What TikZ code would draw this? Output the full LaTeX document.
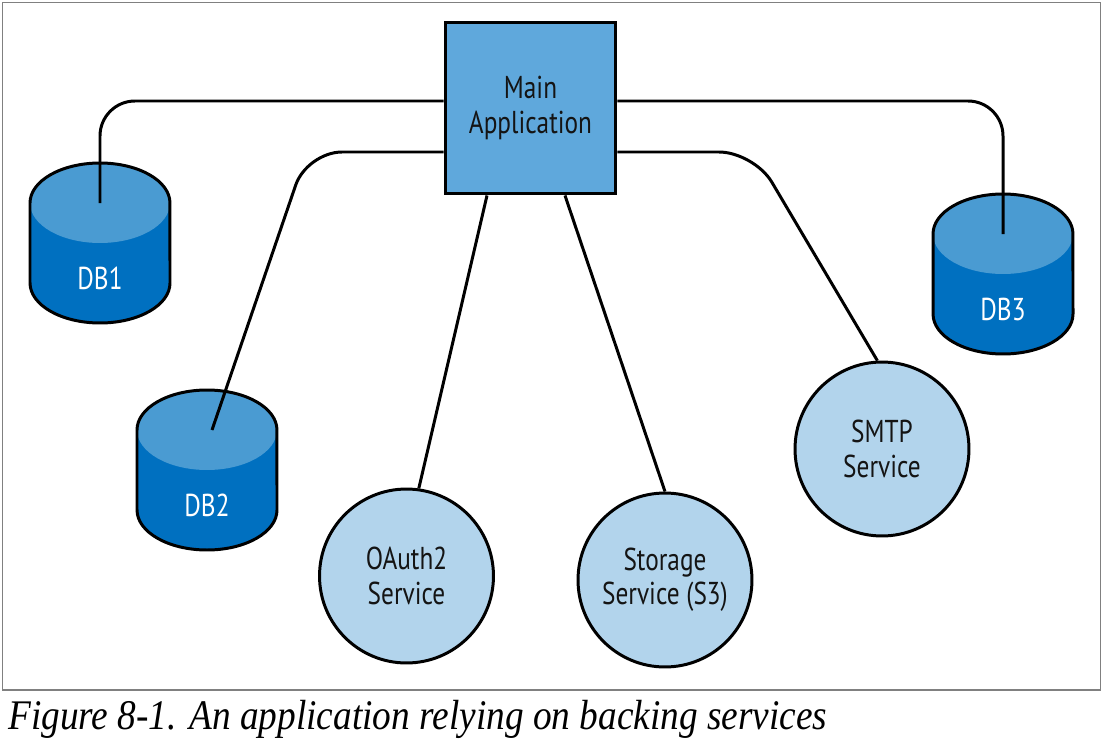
\documentclass[tikz,border=0pt]{standalone}
\usepackage{fontspec}
\newfontfamily\condfont[FakeStretch=0.8]{PT Sans}
\newfontfamily\capfont[FakeStretch=0.885]{Liberation Serif}
\usetikzlibrary{calc}
\definecolor{mainblue}{HTML}{5FA8DC}
\definecolor{dbtopc}{HTML}{4A9BD2}
\definecolor{dbbodyc}{HTML}{0070C0}
\definecolor{svcblue}{HTML}{B2D4EC}
\definecolor{framegray}{HTML}{808080}
\definecolor{txt}{HTML}{141414}
\tikzset{
  shapeline/.style={draw=black, line width=1.7pt},
  conn/.style={draw=black, line width=1.7pt, rounded corners=0.7cm},
  mainbox/.style={shapeline, fill=mainblue, minimum width=3.42cm, minimum height=3.44cm, inner sep=0pt, align=center, text=txt, font=\condfont\fontsize{18}{19.5}\selectfont},
  svc/.style={shapeline, circle, fill=svcblue, minimum size=3.48cm, inner sep=0pt, align=center, text=txt, font=\condfont\fontsize{18}{19.5}\selectfont},
  dblabel/.style={inner sep=0pt, text=white, font=\condfont\fontsize{18}{19.5}\selectfont},
  dbbody/.style={fill=dbbodyc},
  dbtop/.style={fill=dbtopc},
}
\newcommand{\mydbshape}[4]{%
  \fill[dbbody] (#1-70,#2) -- ++(0,80) arc[start angle=180,end angle=360,x radius=1.4cm,y radius=0.8cm] -- ++(0,-80) -- cycle;
  \fill[dbtop] (#1,#2) ellipse[x radius=1.4cm, y radius=0.8cm];
  \draw[shapeline] (#1-70,#2+80) -- (#1-70,#2) arc[start angle=180,end angle=0,x radius=1.4cm,y radius=0.8cm] -- (#1+70,#2+80) arc[start angle=0,end angle=-180,x radius=1.4cm,y radius=0.8cm] -- cycle;
  \node[dblabel] (#3) at (#1,#2+75) {#4};
}
\begin{document}
\begin{tikzpicture}[x=0.02cm,y=-0.02cm]
\useasboundingbox (0,0) rectangle (1103,754);
\draw[framegray, line width=1.1pt] (2.5,2.5) rectangle (1100.5,690);

\node[mainbox] (main) at (530.5,108) {Main\\Application};

\mydbshape{100}{203}{db1}{DB1}
\mydbshape{207}{430}{db2}{DB2}
\mydbshape{1003}{234}{db3}{DB3}
\coordinate (db1top) at (100,203);
\coordinate (db2top) at (212,430);
\coordinate (db3top) at (1003,234);

\node[svc] (oauth) at (406.5,576) {OAuth2\\Service};
\node[svc] (storage) at (665,580) {Storage\\Service (S3)};
\node[svc] (smtp) at (882,449) {SMTP\\Service};

\coordinate (c1) at (100,101);
\coordinate (c2) at (307,152);
\coordinate (c3) at (1003,101);
\coordinate (c4) at (754,152);

\draw[conn] (main.west |- c1) -- (c1) -- (db1top);
\draw[conn] (main.west |- c2) -- (c2) -- (db2top);
\draw[conn] (main.east |- c3) -- (c3) -- (db3top);
\draw[conn] (main.east |- c4) -- (c4) -- (smtp.93);
\draw[conn] (main.south -| 487,0) -- (oauth.82);
\draw[conn] (main.south -| 565,0) -- (storage.north);

\node[anchor=base west, inner sep=0pt, font=\capfont\itshape\fontsize{24}{27}\selectfont] (caption) at (8,729) {Figure 8-1. An application relying on backing services};
\end{tikzpicture}
\end{document}
